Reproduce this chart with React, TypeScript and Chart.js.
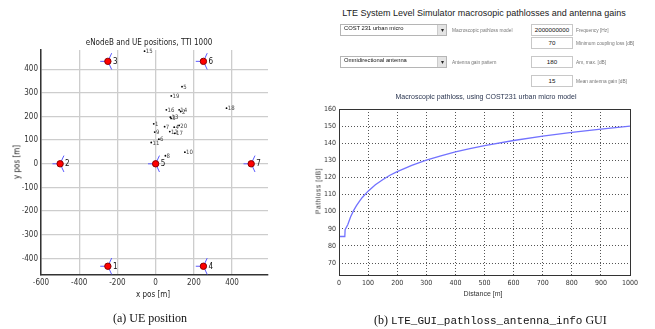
import React, { useEffect, useRef } from "react";
import { Chart, registerables } from "chart.js";
Chart.register(...registerables);

// ---------- Panel (a): eNodeB and UE positions ----------
const siteIds = ["1", "2", "3", "4", "5", "6", "7"];
const siteX = [-250, -500, -250, 250, 0, 250, 500];
const siteY = [-433, 0, 433, -433, 0, 433, 0];
const sectorAngles = [60, 180, 300];
const sectorLength = 40;

const ueIds = ["1", "2", "3", "4", "5", "6", "7", "8", "9", "10", "11", "12", "13", "14", "15", "16", "17", "18", "19", "20"];
const ueX = [-10, 131, 81, 97, 138, 17, 47, 51, -5, 153, -23, 74, 77, 123, -58, 56, 100, 371, 82, 123];
const ueY = [169, 221, 192, 155, 326, 104, 157, 34, 134, 49, 90, 136, 197, 228, 476, 228, 129, 235, 287, 162];

const posXTicks = [-600, -400, -200, 0, 200, 400];
const posYTicks = [-400, -300, -200, -100, 0, 100, 200, 300, 400];

// ---------- Panel (b): pathloss curve ----------
const distance = [0, 20, 21, 30, 40, 50, 60, 70, 80, 100, 125, 150, 175, 200, 250, 300, 350, 400, 450, 500, 600, 700, 800, 900, 1000];
const pathloss = [85.5, 85.5, 89.5, 92.4, 97.0, 100.6, 103.5, 106.0, 108.3, 112.0, 115.7, 118.7, 121.3, 123.4, 127.1, 130.1, 132.6, 134.9, 136.8, 138.6, 141.6, 144.1, 146.3, 148.3, 150.0];
const plXTicks = [0, 100, 200, 300, 400, 500, 600, 700, 800, 900, 1000];
const plYTicks = [70, 80, 90, 100, 110, 120, 130, 140, 150, 160];

const NARROW = "'Liberation Sans Narrow', 'DejaVu Sans Condensed', 'Liberation Sans', Arial, sans-serif";
const SANS = "'Liberation Sans', Arial, sans-serif";

const labelPlugin = {
  id: "pointLabels",
  afterDatasetsDraw(chart: any) {
    const ctx = chart.ctx;
    chart.data.datasets.forEach((ds: any, i: number) => {
      if (!ds.pointLabels) return;
      const meta = chart.getDatasetMeta(i);
      ctx.save();
      ctx.font = ds.labelFont;
      ctx.fillStyle = ds.labelColor;
      ctx.textAlign = "left";
      ctx.textBaseline = "middle";
      meta.data.forEach((el: any, j: number) => {
        ctx.fillText(ds.pointLabels[j], el.x + ds.labelDx, el.y + 0.5);
      });
      ctx.restore();
    });
  },
};

const boxPlugin = {
  id: "boxFrame",
  afterDraw(chart: any) {
    if (!chart.options.plugins.boxFrame?.enabled) return;
    const { left, top, right, bottom } = chart.chartArea;
    const ctx = chart.ctx;
    ctx.save();
    ctx.strokeStyle = "#333";
    ctx.lineWidth = 1;
    ctx.strokeRect(Math.round(left) + 0.5, Math.round(top) + 0.5, Math.round(right - left), Math.round(bottom - top));
    ctx.restore();
  },
};

function T(props: { x: number; y: number; children: React.ReactNode; style?: React.CSSProperties; rotate?: boolean; align?: "center" | "left" }) {
  const { x, y, children, style, rotate, align = "center" } = props;
  const tx = align === "center" ? "-50%" : "0";
  return (
    <div
      style={{
        position: "absolute",
        left: x,
        top: y,
        whiteSpace: "nowrap",
        lineHeight: 1,
        transform: `translate(${tx}, -50%)${rotate ? " rotate(-90deg)" : ""}`,
        transformOrigin: align === "center" ? "center" : "left center",
        ...style,
      }}
    >
      {children}
    </div>
  );
}

function Dropdown(props: { x: number; y: number; w: number; text: string }) {
  return (
    <div style={{ position: "absolute", left: props.x, top: props.y, width: props.w, height: 12, border: "1px solid #b5b5b5", background: "#fff", boxSizing: "border-box" }}>
      <div style={{ position: "absolute", left: 3, top: 0, height: 10, lineHeight: "10px", font: `5.8px ${SANS}`, color: "#111", whiteSpace: "nowrap" }}>{props.text}</div>
      <div style={{ position: "absolute", right: 0, top: 0, width: 8, height: 10, background: "#e4e4e4", borderLeft: "1px solid #ccc", font: `6px ${SANS}`, lineHeight: "10px", textAlign: "center", color: "#222" }}>▾</div>
    </div>
  );
}

function Box(props: { x: number; y: number; text: string }) {
  return (
    <div style={{ position: "absolute", left: props.x, top: props.y, width: 42, height: 12, border: "1px solid #c8c8c8", boxSizing: "border-box", background: "#fff", font: `6.2px ${SANS}`, lineHeight: "10px", textAlign: "center", color: "#111" }}>{props.text}</div>
  );
}

export default function App() {
  const leftRef = useRef<HTMLCanvasElement>(null);
  const rightRef = useRef<HTMLCanvasElement>(null);

  useEffect(() => {
    const sectorData: any[] = [];
    siteX.forEach((sx, i) => {
      sectorAngles.forEach((a) => {
        const r = (a * Math.PI) / 180;
        sectorData.push({ x: sx, y: siteY[i] });
        sectorData.push({ x: sx + sectorLength * Math.cos(r), y: siteY[i] + sectorLength * Math.sin(r) });
        sectorData.push({ x: sx, y: null });
      });
    });

    const plain = (v: any) => String(v);
    const tickFontL = { family: NARROW, size: 8 };
    const c1 = new Chart(leftRef.current!, {
      type: "scatter",
      data: {
        datasets: [
          {
            label: "eNodeB",
            data: siteX.map((x, i) => ({ x, y: siteY[i] })),
            pointRadius: 3.2,
            pointBackgroundColor: "#ff0000",
            pointBorderColor: "#8a0000",
            pointBorderWidth: 1,
            order: 0,
            pointLabels: siteIds,
            labelFont: `8px ${NARROW}`,
            labelColor: "#111",
            labelDx: 5,
          } as any,
          {
            type: "line",
            label: "sectors",
            data: sectorData,
            showLine: true,
            spanGaps: false,
            borderColor: "#5a5aff",
            borderWidth: 1,
            pointRadius: 0,
            order: 1,
          } as any,
          {
            label: "UE",
            data: ueX.map((x, i) => ({ x, y: ueY[i] })),
            pointRadius: 0.9,
            pointBackgroundColor: "#000",
            pointBorderWidth: 0,
            order: 2,
            pointLabels: ueIds,
            labelFont: `6px ${NARROW}`,
            labelColor: "#444",
            labelDx: 1.2,
          } as any,
        ],
      },
      options: {
        responsive: false,
        animation: false,
        layout: { padding: { top: 50, right: 32, left: 0, bottom: 0 } },
        plugins: { legend: { display: false }, tooltip: { enabled: false } },
        scales: {
          x: {
            type: "linear",
            min: -600,
            max: 588,
            afterBuildTicks: (s: any) => { s.ticks = posXTicks.map((v) => ({ value: v })); },
            afterFit: (s: any) => { s.height = 25; },
            ticks: { font: tickFontL, color: "#333", padding: 3, maxRotation: 0, autoSkip: false, callback: plain },
            grid: { color: "#cdcdcd", lineWidth: 1.3, drawTicks: false },
            border: { color: "#333", width: 1.5 },
          },
          y: {
            type: "linear",
            min: -470,
            max: 481,
            afterBuildTicks: (s: any) => { s.ticks = posYTicks.map((v) => ({ value: v })); },
            afterFit: (s: any) => { s.width = 41; },
            ticks: { font: tickFontL, color: "#333", padding: 3, autoSkip: false, callback: plain },
            grid: { color: "#cdcdcd", lineWidth: 1.3, drawTicks: false },
            border: { color: "#333", width: 1.5 },
          },
        },
      } as any,
      plugins: [labelPlugin],
    });

    const tickFontR = { family: NARROW, size: 7 };
    const c2 = new Chart(rightRef.current!, {
      type: "line",
      data: {
        datasets: [
          {
            label: "Pathloss",
            data: distance.map((d, i) => ({ x: d, y: pathloss[i] })),
            borderColor: "#7272ff",
            borderWidth: 1.3,
            pointRadius: 0,
            tension: 0,
          },
        ],
      },
      options: {
        responsive: false,
        animation: false,
        layout: { padding: { top: 9, right: 25, left: 0, bottom: 0 } },
        plugins: { legend: { display: false }, tooltip: { enabled: false }, boxFrame: { enabled: true } },
        scales: {
          x: {
            type: "linear",
            min: 0,
            max: 1000,
            afterBuildTicks: (s: any) => { s.ticks = plXTicks.map((v) => ({ value: v })); },
            afterFit: (s: any) => { s.height = 25; },
            ticks: { font: tickFontR, color: "#333", padding: 4, maxRotation: 0, autoSkip: false, callback: plain },
            grid: { color: "#555", lineWidth: 1, drawTicks: false },
            border: { display: false, dash: [1, 2] },
          },
          y: {
            type: "linear",
            min: 63,
            max: 160,
            afterBuildTicks: (s: any) => { s.ticks = plYTicks.map((v) => ({ value: v })); },
            afterFit: (s: any) => { s.width = 39; },
            ticks: { font: tickFontR, color: "#333", padding: 3, autoSkip: false, callback: plain },
            grid: { color: "#555", lineWidth: 1, drawTicks: false },
            border: { display: false, dash: [1, 2] },
          },
        },
      } as any,
      plugins: [boxPlugin],
    });

    return () => {
      c1.destroy();
      c2.destroy();
    };
  }, []);

  const small = { font: `4.8px ${SANS}`, color: "#777" };
  return (
    <div style={{ position: "absolute", left: 0, top: 0, width: 655, height: 329, background: "#fff", overflow: "hidden" }}>
      <canvas ref={leftRef} width={300} height={300} style={{ position: "absolute", left: 0, top: 0, width: 300, height: 300 }} />
      <canvas ref={rightRef} width={355} height={200} style={{ position: "absolute", left: 300, top: 100, width: 355, height: 200 }} />

      {/* panel (a) texts */}
      <T x={149} y={42} style={{ font: `8px ${NARROW}`, color: "#222" }}>eNodeB and UE positions, TTI 1000</T>
      <T x={17} y={162} rotate style={{ font: `8px ${NARROW}`, color: "#222" }}>y pos [m]</T>
      <T x={153} y={294} style={{ font: `8px ${NARROW}`, color: "#222" }}>x pos [m]</T>
      <T x={150} y={318} style={{ font: `12px 'Liberation Serif', 'Times New Roman', serif`, color: "#111" }}>(a) UE position</T>

      {/* panel (b) GUI */}
      <T x={484} y={13} style={{ font: `9px ${SANS}`, color: "#1a1a1a" }}>LTE System Level Simulator macrosopic pathlosses and antenna gains</T>
      <Dropdown x={340} y={24} w={107} text="COST 231 urban micro" />
      <T x={452} y={30} align="left" style={small}>Macroscopic pathloss model</T>
      <Dropdown x={340} y={56} w={107} text="Omnidirectional antenna" />
      <T x={452} y={62} align="left" style={small}>Antenna gain pattern</T>

      <Box x={531} y={24} text="2000000000" />
      <T x={576} y={30} align="left" style={small}>Frequency [Hz]</T>
      <Box x={531} y={37} text="70" />
      <T x={576} y={43} align="left" style={small}>Minimum coupling loss [dB]</T>
      <Box x={531} y={56} text="180" />
      <T x={576} y={62} align="left" style={small}>Am, max. [dB]</T>
      <Box x={531} y={75} text="15" />
      <T x={576} y={81} align="left" style={small}>Mean antenna gain [dB]</T>

      <T x={486} y={96} style={{ font: `7px ${SANS}`, color: "#2a3550" }}>Macroscopic pathloss, using COST231 urban micro model</T>
      <T x={318} y={191} rotate style={{ font: `6.5px ${SANS}`, color: "#333", letterSpacing: "0.6px" }}>Pathloss [dB]</T>
      <T x={483} y={293} style={{ font: `7px ${SANS}`, color: "#333" }}>Distance [m]</T>
      <div style={{ position: "absolute", left: 374, top: 311, whiteSpace: "nowrap", lineHeight: 1, color: "#111" }}>
        <span style={{ font: `12px 'Liberation Serif', 'Times New Roman', serif` }}>(b) </span>
        <span style={{ font: `11px 'Liberation Mono', 'DejaVu Sans Mono', monospace` }}>LTE_GUI_pathloss_antenna_info</span>
        <span style={{ font: `12px 'Liberation Serif', 'Times New Roman', serif` }}> GUI</span>
      </div>
    </div>
  );
}
